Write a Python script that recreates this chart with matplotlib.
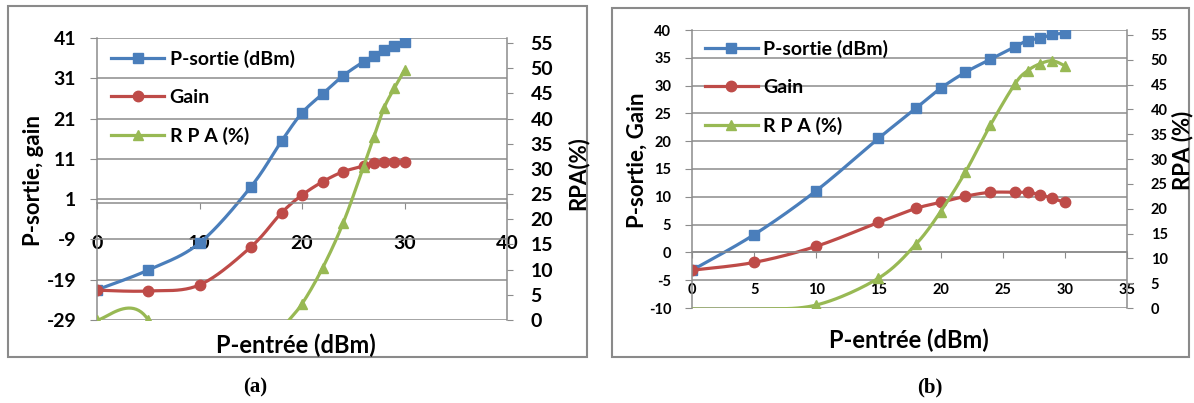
import numpy as np
import matplotlib.pyplot as plt
from matplotlib.patches import Rectangle

plt.rcParams['font.family'] = ['Lato', 'DejaVu Sans']
plt.rcParams['axes.unicode_minus'] = False

W, H = 1194, 403

# P-entrée (dBm), same points for both panels
p_entree = [0, 5, 10, 15, 18, 20, 22, 24, 26, 27, 28, 29, 30]

# panel (a)
a_sortie = [-21.5, -16.6, -9.9, 4.0, 15.4, 22.4, 27.1, 31.6, 35.1, 36.5, 38.0, 39.0, 40.0]
a_gain = [-21.6, -21.8, -20.3, -10.9, -2.4, 2.0, 5.3, 7.8, 9.2, 10.0, 10.3, 10.3, 10.3]
a_rpa = [0, 0, -32, -12, -2, 3.2, 10.3, 19.2, 30.4, 36.3, 42.1, 46.0, 49.6]

# panel (b)
b_sortie = [-3.2, 3.2, 11.1, 20.5, 25.9, 29.5, 32.4, 34.7, 37.0, 38.1, 38.5, 39.2, 39.4]
b_gain = [-3.2, -1.8, 1.1, 5.4, 7.9, 9.0, 10.1, 10.8, 10.8, 10.8, 10.4, 9.7, 9.0]
b_rpa = [-0.2, -0.2, 0.6, 6.0, 12.8, 19.4, 27.4, 36.8, 45.2, 47.8, 49.2, 49.8, 48.8]

BLUE = '#4A7EBB'
RED = '#BE4B48'
GREEN = '#98B954'
GRID = '#8C8C8C'


def box(l, t, r, b):
    return [l / W, 1 - b / H, (r - l) / W, (b - t) / H]


def smooth(x, y, n=24):
    # excel-like smoothed line: bezier segments, tangents from neighbours / 6
    p = np.column_stack([x, y]).astype(float)
    e = np.vstack([p[0], p, p[-1]])
    t = np.linspace(0, 1, n)[:, None]
    segs = []
    for i in range(len(p) - 1):
        p0, p1 = e[i + 1], e[i + 2]
        c1 = p0 + (e[i + 2] - e[i]) / 6
        c2 = p1 - (e[i + 3] - e[i + 1]) / 6
        segs.append((1 - t) ** 3 * p0 + 3 * (1 - t) ** 2 * t * c1
                    + 3 * (1 - t) * t ** 2 * c2 + t ** 3 * p1)
    c = np.vstack(segs)
    return c[:, 0], c[:, 1]


def series(ax, x, y, color, marker, ms, label, skip=0):
    sx, sy = smooth(x, y)
    ax.plot(sx, sy, color=color, lw=2.3, solid_capstyle='round')
    ax.plot(x[skip:], y[skip:], ls='none', marker=marker, ms=ms, color=color)
    # proxy for legend
    return ax.plot([], [], color=color, lw=2.3, marker=marker, ms=ms, label=label)[0]


def panel(rect, xlim, xticks, ylim, yticks, fs, xpad, ypad, rpad,
          sortie, gain, rpa, leg_anchor, rpa_skip=0):
    ax = fig.add_axes(box(*rect))
    ax2 = ax.twinx()
    ax.set_xlim(*xlim)
    ax.set_ylim(*ylim)
    ax2.set_ylim(0, 56)
    ax.set_xticks(xticks)
    ax.set_yticks(yticks)
    ax2.set_yticks(range(0, 56, 5))
    ax.grid(axis='y', color=GRID, lw=1.1)
    ax.set_axisbelow(True)
    ax.spines['top'].set_visible(False)
    ax2.spines['top'].set_visible(False)
    ax.spines['bottom'].set_position(('data', 0))
    ax2.spines['bottom'].set_visible(False)
    ax2.spines['left'].set_visible(False)
    ax.spines['right'].set_visible(False)
    for s in ['left', 'bottom']:
        ax.spines[s].set_color(GRID)
        ax.spines[s].set_linewidth(1.1)
    ax2.spines['right'].set_color(GRID)
    ax2.spines['right'].set_linewidth(1.1)
    ax.tick_params(axis='x', direction='out', length=4, color=GRID, pad=xpad,
                   labelsize=fs)
    ax.tick_params(axis='y', direction='out', length=5, color=GRID, pad=ypad,
                   labelsize=fs)
    ax2.tick_params(axis='y', direction='out', length=4, color=GRID, pad=rpad,
                    labelsize=fs)
    for lab in ax.get_xticklabels() + ax.get_yticklabels() + ax2.get_yticklabels():
        lab.set_fontweight('bold')

    h1 = series(ax, p_entree, sortie, BLUE, 's', 7.5, 'P-sortie (dBm)')
    h2 = series(ax, p_entree, gain, RED, 'o', 7.5, 'Gain')
    h3 = series(ax2, p_entree, rpa, GREEN, '^', 7.5, 'R P A (%)', rpa_skip)
    ax2.legend(handles=[h1, h2, h3], loc='upper left', bbox_to_anchor=leg_anchor,
               frameon=False, prop={'size': 14, 'weight': 'bold'},
               handlelength=2.7, handletextpad=0.3,
               labelspacing=1.08, borderaxespad=0, borderpad=0)
    return ax, ax2


fig = plt.figure(figsize=(W / 100, H / 100), dpi=100)

# frames around each chart
for l, t, r, b in [(8, 6, 587, 357), (612, 8, 1189, 357)]:
    fig.patches.append(Rectangle((l / W, 1 - b / H), (r - l) / W, (b - t) / H,
                                 transform=fig.transFigure, fill=False,
                                 edgecolor='#8A8A8A', lw=1.5))

panel((97, 38, 507, 320), (0, 40), range(0, 41, 10), (-29, 41), range(-29, 42, 10),
      14, 19, 10, 13, a_sortie, a_gain, a_rpa, (0.035, 0.958))
panel((692, 30, 1127, 308), (0, 35), range(0, 36, 5), (-10, 40), range(-10, 41, 5),
      10.5, 18, 10, 13, b_sortie, b_gain, b_rpa, (0.03, 0.965), rpa_skip=2)

bold = dict(fontweight='bold', ha='center', va='center')
fig.text(296 / W, 1 - 345 / H, 'P-entrée (dBm)', fontsize=17, **bold)
fig.text(909 / W, 1 - 340 / H, 'P-entrée (dBm)', fontsize=17, **bold)
fig.text(34 / W, 1 - 180 / H, 'P-sortie, gain', fontsize=16, rotation=90, **bold)
fig.text(637 / W, 1 - 160 / H, 'P-sortie, Gain', fontsize=16, rotation=90, **bold)
fig.text(578 / W, 1 - 173 / H, 'RPA(%)', fontsize=16, rotation=90, **bold)
fig.text(1183 / W, 1 - 150 / H, 'RPA (%)', fontsize=16, rotation=90, **bold)

fig.text(255 / W, 1 - 387 / H, '(a)', fontsize=15, family='Liberation Serif', **bold)
fig.text(930 / W, 1 - 387 / H, '(b)', fontsize=15, family='Liberation Serif', **bold)

fig.savefig('out.png', dpi=100)
